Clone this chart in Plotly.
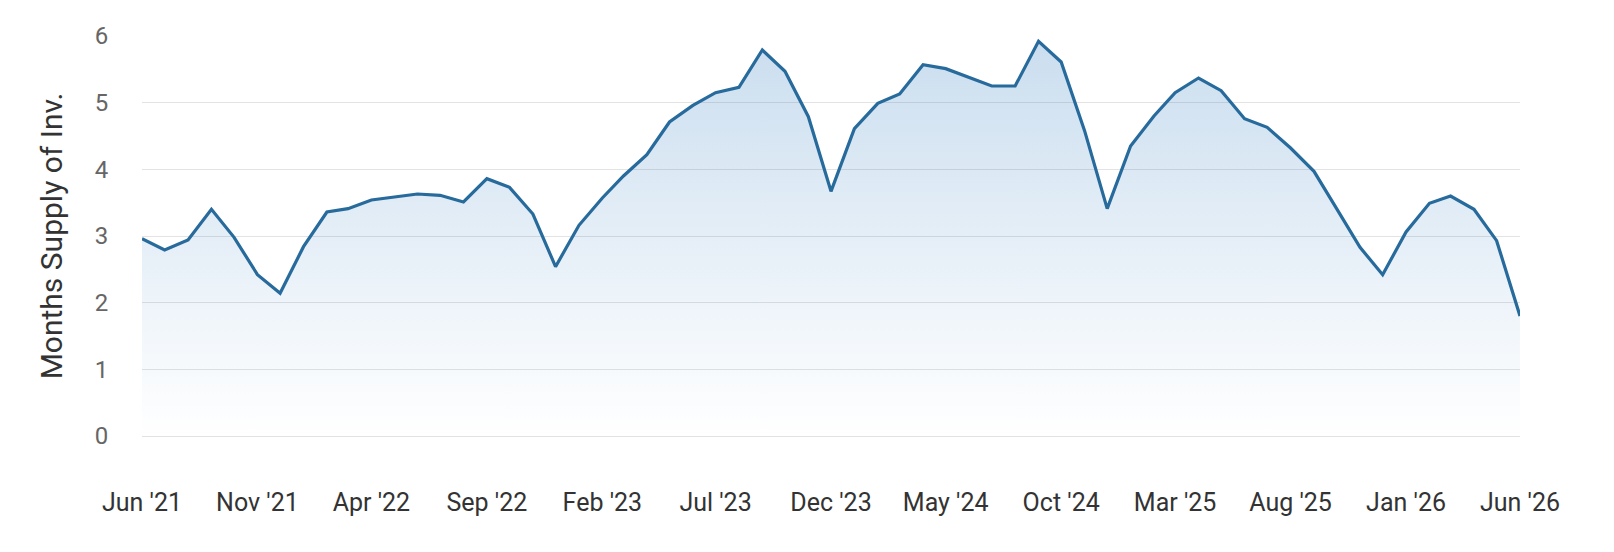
import plotly.graph_objects as go
import pandas as pd

months = pd.date_range("2021-06-01", "2026-06-01", freq="MS")
months_supply = [
    2.96, 2.79, 2.94, 3.40, 2.98, 2.42, 2.14, 2.84, 3.36, 3.41,
    3.54, 3.59, 3.63, 3.61, 3.51, 3.86, 3.73, 3.33, 2.54, 3.16,
    3.57, 3.90, 4.22, 4.71, 4.96, 5.15, 5.23, 5.79, 5.47, 4.79,
    3.67, 4.61, 4.99, 5.13, 5.57, 5.51, 5.38, 5.25, 5.25, 5.92,
    5.61, 4.58, 3.41, 4.35, 4.80, 5.15, 5.37, 5.18, 4.76, 4.63,
    4.32, 3.97, 3.41, 2.83, 2.42, 3.06, 3.49, 3.60, 3.40, 2.93,
    1.80,
]
tick_dates = pd.date_range("2021-06-01", "2026-06-01", freq="5MS")
tick_labels = [d.strftime("%b '%y") for d in tick_dates]
y_ticks = [0, 1, 2, 3, 4, 5, 6]

fig = go.Figure()
fig.add_trace(go.Scatter(
    x=months, y=months_supply, mode="lines",
    line=dict(color="#276a9c", width=3.2),
    fill="tozeroy",
    fillgradient=dict(
        type="vertical",
        colorscale=[[0, "rgba(42,120,190,0.0)"], [0.25, "rgba(42,120,190,0.06)"], [1, "rgba(42,120,190,0.25)"]],
        start=0, stop=6,
    ),
    hoverinfo="x+y",
))

fig.update_layout(
    width=1598, height=536,
    margin=dict(l=134, r=86, t=28, b=108),
    plot_bgcolor="white", paper_bgcolor="white",
    showlegend=False,
    font=dict(family="Roboto", color="#333333"),
)
fig.update_xaxes(
    range=[months[0], months[-1]],
    tickvals=list(tick_dates), ticktext=tick_labels,
    showgrid=False, zeroline=False, showline=False,
    ticks="outside", ticklen=44, tickcolor="rgba(0,0,0,0)",
    tickfont=dict(size=25, color="#333333"),
)
fig.update_yaxes(
    range=[0, 6], tickvals=y_ticks,
    showgrid=True, gridcolor="#e3e3e3", gridwidth=1,
    zeroline=True, zerolinecolor="#e3e3e3", zerolinewidth=1,
    showline=False,
    ticks="outside", ticklen=28, tickcolor="rgba(0,0,0,0)",
    tickfont=dict(size=24, color="#666666"),
    title=dict(text="Months Supply of Inv.", font=dict(size=30, color="#333333"), standoff=23),
)

fig.write_html("out.html")
